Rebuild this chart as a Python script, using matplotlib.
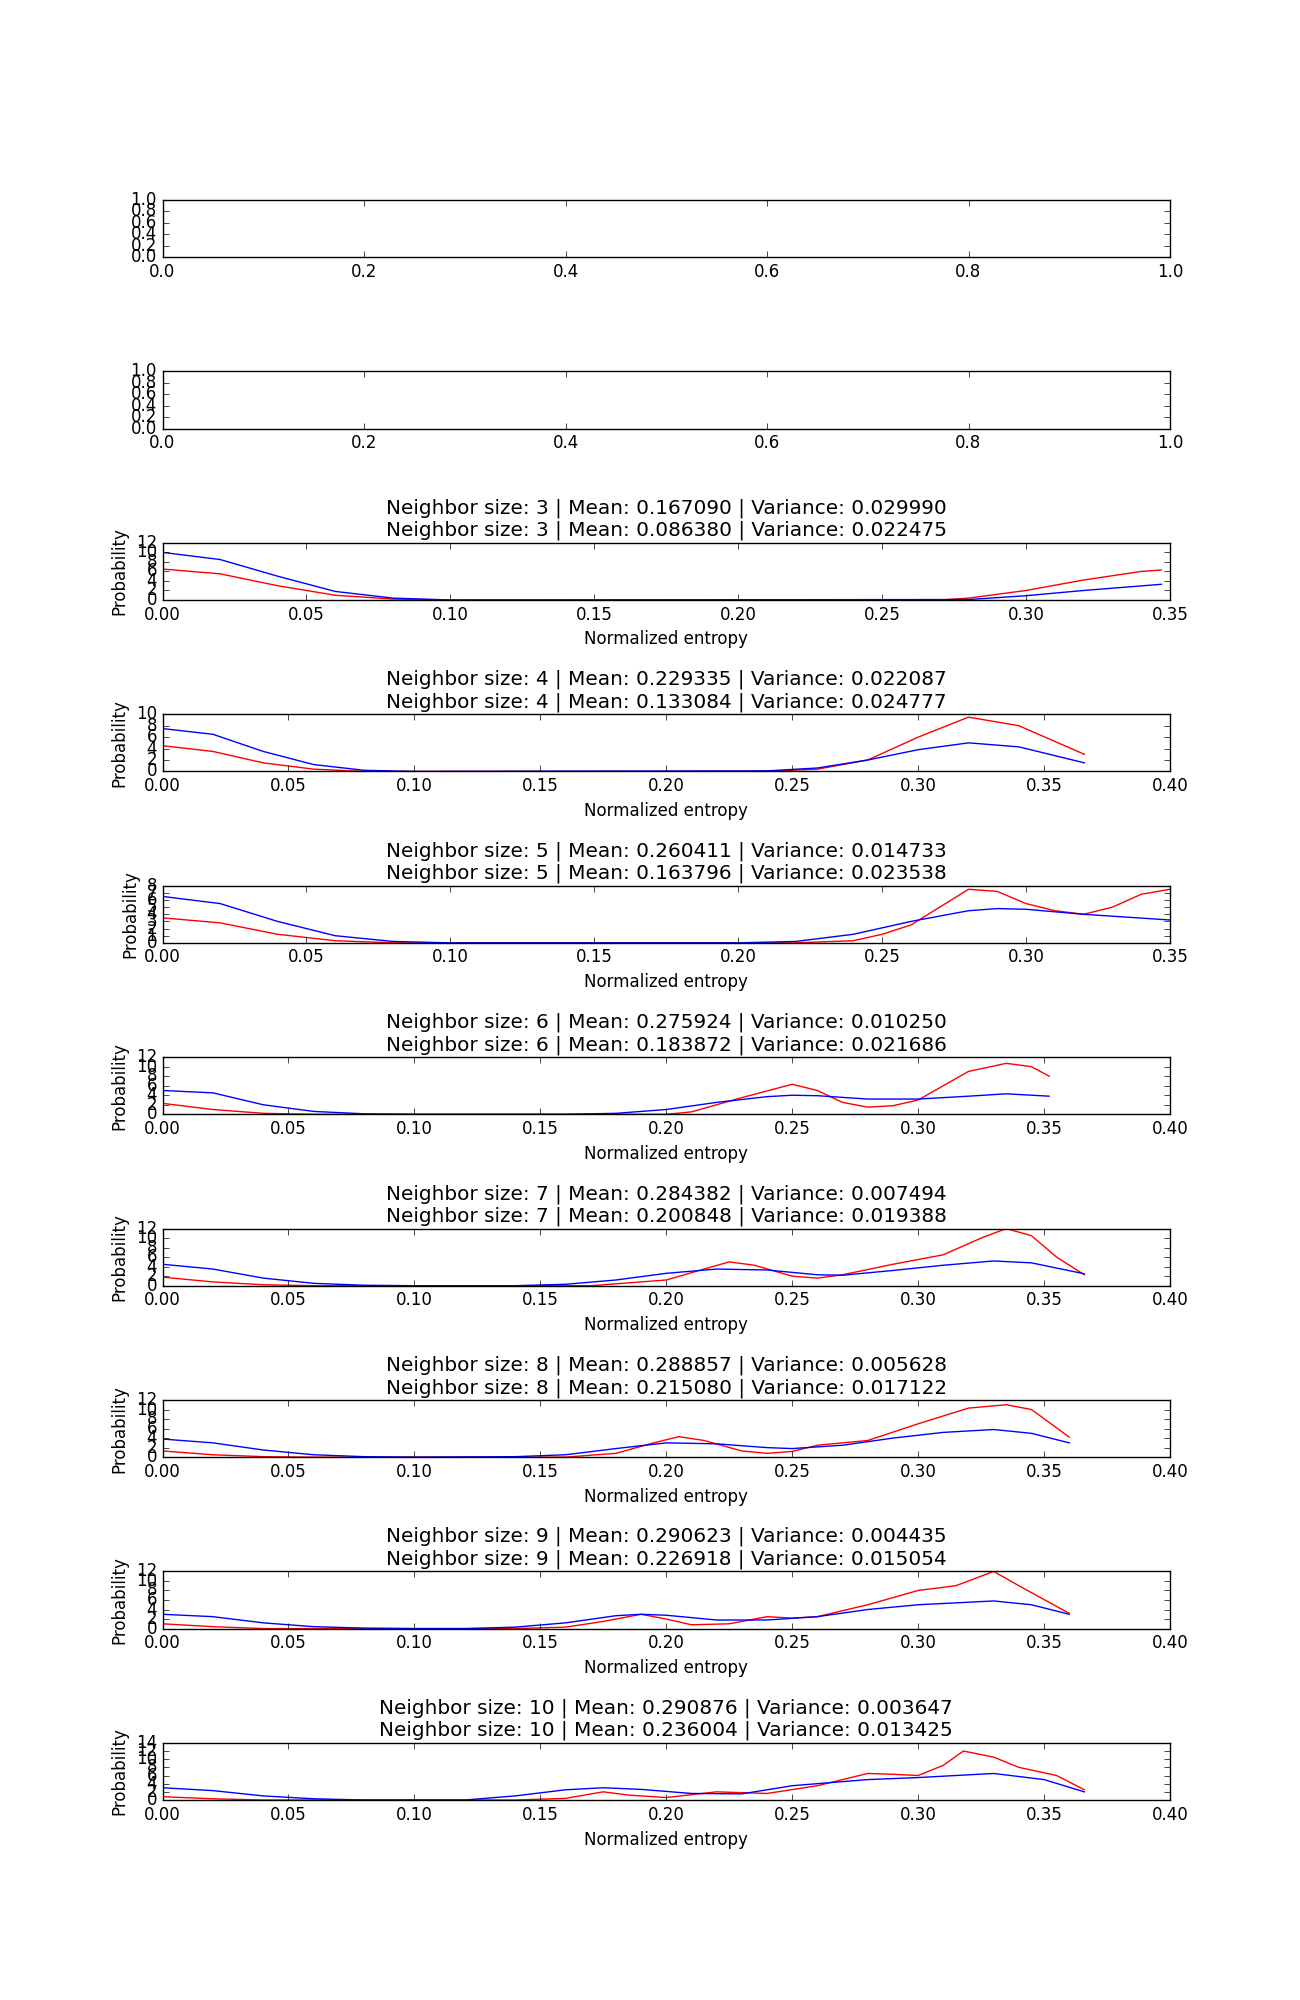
import numpy as np
import matplotlib
matplotlib.use("Agg")
import matplotlib.pyplot as plt

plt.style.use('classic')

sizes = [3, 4, 5, 6, 7, 8, 9, 10]
titles = [
    ("0.167090", "0.029990", "0.086380", "0.022475"),
    ("0.229335", "0.022087", "0.133084", "0.024777"),
    ("0.260411", "0.014733", "0.163796", "0.023538"),
    ("0.275924", "0.010250", "0.183872", "0.021686"),
    ("0.284382", "0.007494", "0.200848", "0.019388"),
    ("0.288857", "0.005628", "0.215080", "0.017122"),
    ("0.290623", "0.004435", "0.226918", "0.015054"),
    ("0.290876", "0.003647", "0.236004", "0.013425"),
]
xmaxes = [0.35, 0.40, 0.35, 0.40, 0.40, 0.40, 0.40, 0.40]
ymaxes = [12, 10, 8, 12, 12, 12, 12, 14]
ysteps = [2, 2, 1, 2, 2, 2, 2, 2]

red = [
    [(0, 6.5), (0.02, 5.5), (0.04, 3), (0.06, 1), (0.08, 0.2), (0.1, 0), (0.27, 0), (0.28, 0.4), (0.3, 2), (0.32, 4.2), (0.34, 6), (0.347, 6.3)],
    [(0, 4.5), (0.02, 3.5), (0.04, 1.5), (0.06, 0.4), (0.08, 0), (0.24, 0), (0.26, 0.4), (0.28, 2), (0.3, 6), (0.32, 9.5), (0.34, 8), (0.366, 3)],
    [(0, 3.5), (0.02, 2.8), (0.04, 1.2), (0.06, 0.3), (0.08, 0), (0.22, 0), (0.24, 0.3), (0.25, 1.2), (0.26, 2.5), (0.27, 5), (0.28, 7.5), (0.29, 7.2), (0.3, 5.5), (0.31, 4.5), (0.32, 4), (0.33, 5), (0.34, 6.8), (0.35, 7.5)],
    [(0, 2.3), (0.02, 1), (0.04, 0.2), (0.06, 0), (0.2, 0), (0.21, 0.5), (0.23, 3.5), (0.25, 6.3), (0.26, 5), (0.27, 2.5), (0.28, 1.5), (0.29, 1.8), (0.3, 3), (0.31, 6), (0.32, 9), (0.335, 10.7), (0.345, 10), (0.352, 8)],
    [(0, 1.8), (0.02, 0.8), (0.04, 0.2), (0.06, 0), (0.17, 0), (0.2, 1.2), (0.215, 3.5), (0.225, 5), (0.235, 4.3), (0.25, 2), (0.26, 1.6), (0.27, 2.3), (0.29, 4.5), (0.31, 6.5), (0.325, 10), (0.335, 12), (0.345, 10.5), (0.355, 6), (0.366, 2.3)],
    [(0, 1.3), (0.02, 0.5), (0.04, 0.1), (0.06, 0), (0.16, 0), (0.18, 0.8), (0.195, 3), (0.205, 4.3), (0.215, 3.5), (0.23, 1.3), (0.24, 0.8), (0.25, 1.2), (0.26, 2.5), (0.28, 3.5), (0.3, 7), (0.32, 10.3), (0.335, 11), (0.345, 10), (0.36, 4.2)],
    [(0, 1), (0.02, 0.4), (0.04, 0), (0.14, 0), (0.16, 0.3), (0.175, 1.5), (0.19, 3), (0.2, 2), (0.21, 0.8), (0.225, 1), (0.24, 2.5), (0.25, 2.2), (0.26, 2.5), (0.28, 5), (0.3, 8), (0.315, 9), (0.33, 12), (0.34, 9), (0.36, 3.2)],
    [(0, 0.8), (0.02, 0.3), (0.04, 0), (0.14, 0), (0.16, 0.4), (0.175, 2), (0.185, 1.2), (0.2, 0.6), (0.22, 2), (0.24, 1.6), (0.26, 3.5), (0.28, 6.5), (0.29, 6.3), (0.3, 6), (0.31, 8.5), (0.318, 12), (0.33, 10.5), (0.34, 8), (0.355, 6), (0.366, 2.5)],
]
blue = [
    [(0, 10), (0.02, 8.5), (0.04, 5), (0.06, 1.8), (0.08, 0.4), (0.1, 0), (0.28, 0.1), (0.3, 0.9), (0.32, 2), (0.347, 3.3)],
    [(0, 7.5), (0.02, 6.5), (0.04, 3.5), (0.06, 1.2), (0.08, 0.2), (0.1, 0), (0.24, 0.1), (0.26, 0.6), (0.28, 2), (0.3, 3.8), (0.32, 5), (0.34, 4.3), (0.366, 1.5)],
    [(0, 6.5), (0.02, 5.5), (0.04, 3), (0.06, 1), (0.08, 0.2), (0.1, 0), (0.2, 0), (0.22, 0.2), (0.24, 1.2), (0.26, 3), (0.28, 4.5), (0.29, 4.8), (0.3, 4.7), (0.32, 4), (0.35, 3.2)],
    [(0, 5), (0.02, 4.5), (0.04, 2), (0.06, 0.6), (0.08, 0.1), (0.1, 0), (0.16, 0), (0.18, 0.2), (0.2, 1), (0.22, 2.5), (0.24, 3.7), (0.25, 4), (0.26, 3.9), (0.28, 3.2), (0.3, 3.2), (0.32, 3.8), (0.335, 4.3), (0.352, 3.8)],
    [(0, 4.5), (0.02, 3.5), (0.04, 1.6), (0.06, 0.5), (0.08, 0.1), (0.1, 0), (0.14, 0), (0.16, 0.3), (0.18, 1.2), (0.2, 2.6), (0.22, 3.5), (0.24, 3.3), (0.26, 2.3), (0.27, 2.2), (0.29, 3.2), (0.31, 4.3), (0.33, 5.2), (0.345, 4.8), (0.366, 2.5)],
    [(0, 3.8), (0.02, 3), (0.04, 1.5), (0.06, 0.5), (0.08, 0.1), (0.1, 0), (0.14, 0.1), (0.16, 0.5), (0.18, 1.8), (0.2, 3), (0.22, 2.8), (0.24, 2), (0.25, 1.8), (0.27, 2.5), (0.29, 4), (0.31, 5.2), (0.33, 5.8), (0.345, 5), (0.36, 3)],
    [(0, 3), (0.02, 2.5), (0.04, 1.2), (0.06, 0.4), (0.08, 0.1), (0.1, 0), (0.12, 0), (0.14, 0.3), (0.16, 1.2), (0.18, 2.7), (0.19, 3), (0.2, 2.8), (0.22, 1.8), (0.24, 1.8), (0.26, 2.5), (0.28, 4), (0.3, 5), (0.33, 5.8), (0.345, 5), (0.36, 3)],
    [(0, 3), (0.02, 2.3), (0.04, 1), (0.06, 0.3), (0.08, 0), (0.12, 0), (0.14, 1), (0.16, 2.5), (0.175, 3), (0.19, 2.6), (0.21, 1.6), (0.23, 1.5), (0.25, 3.5), (0.28, 5), (0.3, 5.5), (0.33, 6.5), (0.35, 5), (0.366, 2)],
]

fig, axes = plt.subplots(10, 1, figsize=(13, 20), dpi=100)
fig.subplots_adjust(hspace=2.0)

for i, ax in enumerate(axes[2:]):
    n = sizes[i]
    m1, v1, m2, v2 = titles[i]
    r = np.array(red[i])
    b = np.array(blue[i])
    ax.plot(r[:, 0], r[:, 1], color='r')
    ax.plot(b[:, 0], b[:, 1], color='b')
    ax.set_xlim(0, xmaxes[i])
    ax.set_ylim(0, ymaxes[i])
    ax.set_yticks(np.arange(0, ymaxes[i] + 1, ysteps[i]))
    ax.set_title("Neighbor size: %d | Mean: %s | Variance: %s\nNeighbor size: %d | Mean: %s | Variance: %s"
                 % (n, m1, v1, n, m2, v2))
    ax.set_xlabel("Normalized entropy")
    ax.set_ylabel("Probability")

fig.savefig("out.png", dpi=100)
